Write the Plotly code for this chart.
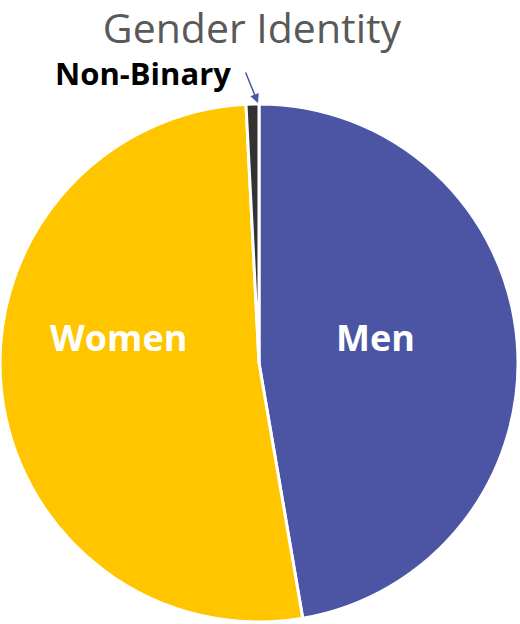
import plotly.graph_objects as go

labels = ["Men", "Women", "Non-Binary"]
values = [47.3, 51.9, 0.8]
colors = ["#4B55A3", "#FFC600", "#333333"]

W, H = 520, 624
ml, mr, mt, mb = 0, 2, 104, 2
pw, ph = W - ml - mr, H - mt - mb

def px2paper(x, y):
    return (x - ml) / pw, (H - mb - y) / ph

fig = go.Figure(go.Pie(
    labels=labels,
    values=values,
    sort=False,
    direction="clockwise",
    rotation=0,
    marker=dict(colors=colors, line=dict(color="white", width=3)),
    textinfo="none",
    hoverinfo="label+percent",
    showlegend=False,
))

# slice labels (placed like the reference's data labels)
label_pos = {"Men": (375, 337), "Women": (118, 337)}
for lab, (lx, ly) in label_pos.items():
    x, y = px2paper(lx, ly)
    fig.add_annotation(x=x, y=y, xref="paper", yref="paper", text=f"<b>{lab}</b>",
                       xanchor="center", yanchor="middle", showarrow=False,
                       font=dict(family="Open Sans", size=36, color="white"))

hx, hy = px2paper(258, 103)
tx, ty = px2paper(143, 73)
fig.add_annotation(x=hx, y=hy, xref="paper", yref="paper", text="",
                   showarrow=True, ax=-13, ay=-32, arrowcolor="#4B55A3",
                   arrowwidth=1.5, arrowhead=2, arrowsize=1.2)
fig.add_annotation(x=tx, y=ty, xref="paper", yref="paper", text=f"<b>{labels[2]}</b>",
                   xanchor="center", yanchor="middle",
                   showarrow=False, font=dict(family="Open Sans", size=31, color="black"))

fig.update_layout(
    width=W, height=H,
    margin=dict(l=ml, r=mr, t=mt, b=mb),
    paper_bgcolor="white",
    title=dict(text="Gender Identity", x=252 / W, xanchor="center", y=1 - 29 / H, yanchor="middle",
               font=dict(family="Open Sans", size=41, color="#595959")),
)

fig.write_html("out.html", config={"displayModeBar": False},
               post_script="document.body.style.margin='0';document.body.style.overflow='hidden';")
